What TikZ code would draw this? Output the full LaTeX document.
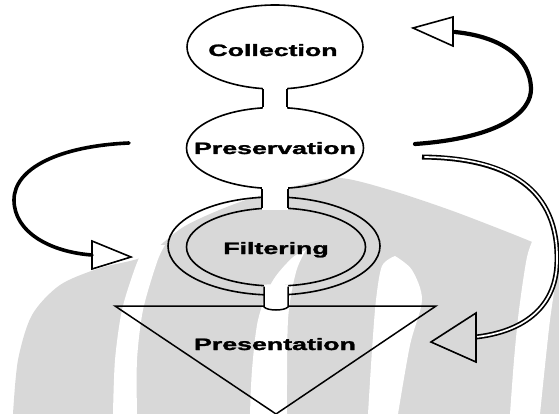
\documentclass[tikz,border=0pt]{standalone}
\usepackage{graphicx}
\usepackage{fontspec}
\setmainfont{Liberation Sans}[BoldFeatures={FakeBold=1.4}]
\usetikzlibrary{shapes.geometric,calc}
\definecolor{wm}{RGB}{216,216,216}
\newcommand\widetext[1]{\scalebox{1.62}[1]{#1}}
\tikzset{
  ell/.style={ellipse, draw, line width=1.6pt, inner sep=0pt, minimum width=#1},
  lbl/.style={font=\bfseries\fontsize{16.5}{16.5}\selectfont, inner sep=0pt, anchor=base},
  headtri/.style={draw, line width=1.6pt, line join=miter},
  linkside/.style={line width=1.5pt},
  thickloop/.style={line width=#1, line cap=round},
}
\begin{document}
\begin{tikzpicture}[x=1pt,y=-1pt]
\useasboundingbox (0,0) rectangle (559,414);
% watermark
\fill[wm] (13,414) -- plot[smooth] coordinates {(13,414)(18,360)(32,315)(60,285)(100,268)(145,256)(185,226)(240,202)(300,185)(340,178)(390,190)(450,210)(510,233)(559,253)} -- (559,414) -- cycle;
\fill[white] (113,414) -- plot[smooth] coordinates {(113,414)(115,360)(122,310)(135,268)(145,245)} -- plot[smooth] coordinates {(165,245)(157,262)(143,310)(137,360)(137,414)} -- cycle;
\fill[white] (250,414) -- plot[smooth] coordinates {(250,414)(252,370)(258,320)(272,282)(292,258)(306,250)} -- plot[smooth] coordinates {(306,250)(296,272)(288,320)(287,414)} -- cycle;
\fill[white] (368,414) -- plot[smooth] coordinates {(368,414)(372,350)(376,300)(382,266)(395,256)} -- plot[smooth] coordinates {(395,256)(412,270)(422,300)(410,345)(398,414)} -- cycle;
\fill[white] (510,414) -- plot[smooth] coordinates {(510,414)(514,360)(519,310)(527,257)(535,235)} -- (565,235) -- plot[smooth] coordinates {(559,262)(550,320)(540,414)} -- cycle;
% loops
\coordinate (t1) at (415,144);
\coordinate (e1) at (455,32);
\draw[thickloop=4.2pt] (t1) .. controls (500,138) and (532,112) .. (531,88) .. controls (530,60) and (505,37) .. (e1);
\draw[headtri] (453,17) -- (453,46) -- (413,28) -- cycle;
\coordinate (t2) at (129,143);
\coordinate (e2) at (92,255);
\draw[thickloop=3.6pt] (t2) .. controls (60,146) and (14,168) .. (14,200) .. controls (14,232) and (50,252) .. (e2);
\draw[headtri] (92,241) -- (92,269) -- (131,257) -- cycle;
\coordinate (t3) at (422,157);
\coordinate (e3) at (476,337);
\draw[line width=5pt] (t3) .. controls (510,158) and (559,190) .. (557,262) .. controls (556,310) and (520,332) .. (e3);
\draw[white, line width=1.7pt, shorten <=2.4pt] (t3) .. controls (510,158) and (559,190) .. (557,262) .. controls (556,310) and (520,332) .. (e3);
\draw[headtri] (476,313) -- (476,362) -- (431,342) -- cycle;
% main shapes
\node[ell=176pt, minimum height=84pt] (col) at (275,47) {};
\node[ell=177pt, minimum height=81pt] (pres) at (275,148) {};
\node[ell=212pt, minimum height=98pt] (filtO) at (274,246) {};
\node[ell=179pt, minimum height=78pt] (filt) at (276,247) {};
\coordinate (tl) at (115,306);
\coordinate (tr) at (436,306);
\coordinate (tb) at (276,414);
\draw[line width=1.5pt, line join=miter] (tl) -- (tr) -- (tb) -- cycle;
% connectors
\fill[white] ($(col.south)+(-12,-2.5)$) rectangle ($(pres.north)+(12,2.5)$);
\draw[linkside] ($(col.south)+(-12,-0.3)$) -- ($(pres.north)+(-12,0.3)$);
\draw[linkside] ($(col.south)+(12,-0.3)$) -- ($(pres.north)+(12,0.3)$);
\fill[white] ($(pres.south)+(-13,-2.5)$) rectangle ($(filt.north)+(12,2.5)$);
\draw[linkside] ($(pres.south)+(-13,-0.3)$) -- ($(filt.north)+(-14,0.3)$);
\draw[linkside] ($(pres.south)+(13,-0.3)$) -- ($(filt.north)+(12,0.3)$);
\fill[white] ($(filt.south)+(-12,-2.5)$) -- (264,307) .. controls (268,311) and (284,311) .. (288,307) -- ($(filt.south)+(12,-2.5)$) -- cycle;
\draw[linkside] ($(filt.south)+(-12,-0.3)$) -- (264,307) .. controls (268,311) and (284,311) .. (288,307) -- ($(filt.south)+(12,-0.3)$);
% labels
\node[lbl] (colT) at (273,56) {\widetext{Collection}};
\node[lbl] (presT) at (275,154) {\widetext{Preservation}};
\node[lbl] (filtT) at (276,254) {\widetext{Filtering}};
\node[lbl] (presentT) at (275,350) {\widetext{Presentation}};
\end{tikzpicture}
\end{document}
